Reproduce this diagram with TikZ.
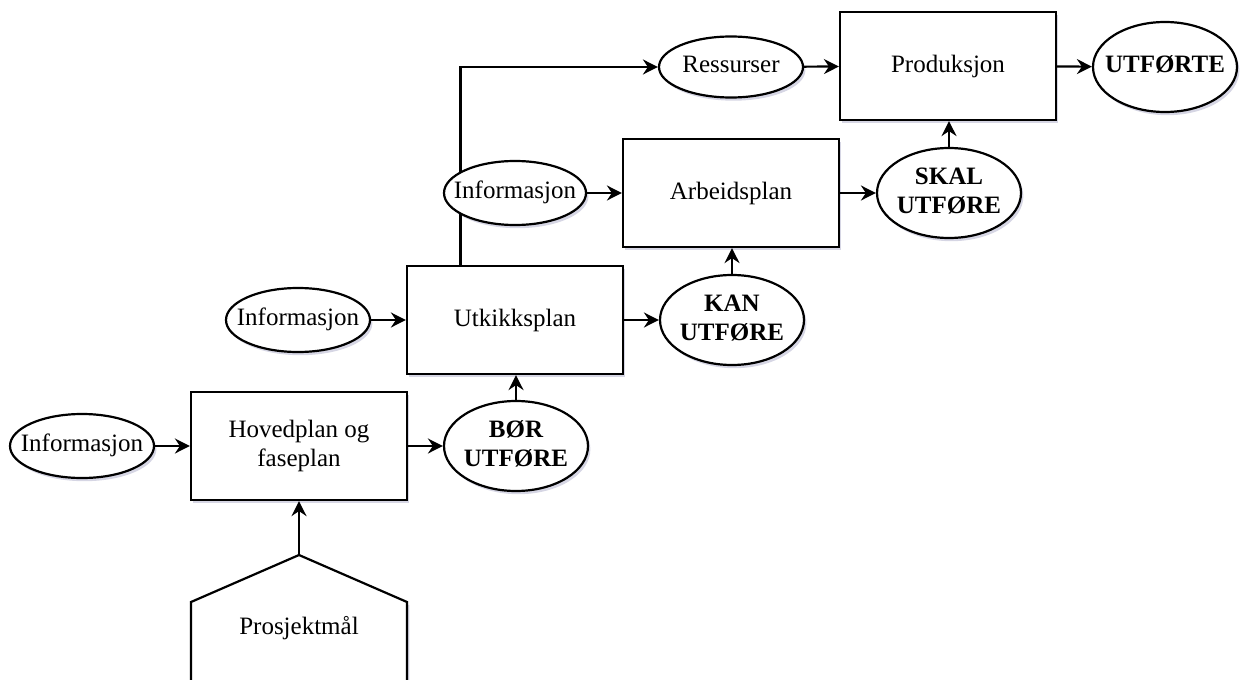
\documentclass[tikz,border=0pt]{standalone}
\usepackage{fontspec}
\setmainfont{Liberation Serif}
\usetikzlibrary{shapes.geometric,arrows.meta,shadows,backgrounds,calc}

% oval labels take no width of their own, so the ellipse keeps its set size
\newcommand{\ovaltext}[1]{\makebox[0pt]{\begin{tabular}{@{}c@{}}#1\end{tabular}}}

\tikzset{
  base/.style={draw=black, line width=1.1pt, fill=white, align=center,
    inner sep=0pt, font=\fontsize{12.5}{14.5}\selectfont,
    drop shadow={shadow xshift=1.2pt, shadow yshift=-1.6pt,
      fill=blue!35!black, opacity=0.16}},
  planbox/.style={base, rectangle, minimum width=108pt, minimum height=54pt},
  oval/.style={base, ellipse, minimum width=72pt, minimum height=32pt},
  bigoval/.style={oval, minimum height=45pt,
    font=\fontsize{12.5}{14.5}\selectfont\bfseries},
  arr/.style={line width=1.1pt, -{Stealth[length=7.5pt, width=7.5pt, inset=2.5pt]}}
}

\begin{document}
\begin{tikzpicture}[x=0.5pt, y=-0.5pt]
  \useasboundingbox (0,0) rectangle (1240,679);
  \clip (0,0) rectangle (1240,679);

  % goal shape, open at the bottom edge
  \path[base] (191,700) -- (191,602) -- (299,555) -- (407,602) -- (407,700) -- cycle;
  \coordinate (goaltop) at (299,555);
  \node[font=\fontsize{12.5}{14.5}\selectfont] (goal) at (299,628) {Prosjektmål};

  % planning levels
  \node[planbox] (hoved) at (299,446) {Hovedplan og\\faseplan};
  \node[planbox] (utk)   at (515,320) {Utkikksplan};
  \node[planbox] (arb)   at (731,193) {Arbeidsplan};
  \node[planbox] (prod)  at (948,66)  {Produksjon};

  % inputs
  \node[oval] (inf1) at (82,446)  {\ovaltext{Informasjon}};
  \node[oval] (inf2) at (298,320) {\ovaltext{Informasjon}};
  \node[oval, minimum width=71pt] (inf3) at (515,193) {\ovaltext{Informasjon}};
  \node[oval, minimum height=30.5pt] (res) at (731,67) {\ovaltext{Ressurser}};

  % outputs
  \node[bigoval] (bor)  at (516,446) {\ovaltext{BØR\\UTFØRE}};
  \node[bigoval] (kan)  at (732,320) {\ovaltext{KAN\\UTFØRE}};
  \node[bigoval] (skal) at (949,193) {\ovaltext{SKAL\\UTFØRE}};
  \node[bigoval] (utf)  at (1165,67) {\ovaltext{UTFØRTE}};

  % connectors
  \draw[arr] (goaltop) -- (hoved.south);
  \draw[arr] (inf1) -- (hoved);
  \draw[arr] (hoved) -- (bor);
  \draw[arr] (bor.north) -- (bor.north |- utk.south);
  \draw[arr] (inf2) -- (utk);
  \draw[arr] (utk) -- (kan);
  \draw[arr] (kan.north) -- (kan.north |- arb.south);
  \draw[arr] (inf3) -- (arb);
  \draw[arr] (arb) -- (skal);
  \draw[arr] (skal.north) -- (skal.north |- prod.south);
  \draw[arr] (res) -- (prod);
  \draw[arr] (prod) -- (utf);

  \coordinate (branch) at ($(utk.north west)!0.25!(utk.north east)$);
  \begin{scope}[on background layer]
    \draw[arr] (branch) |- (res.west);
  \end{scope}
\end{tikzpicture}
\end{document}
